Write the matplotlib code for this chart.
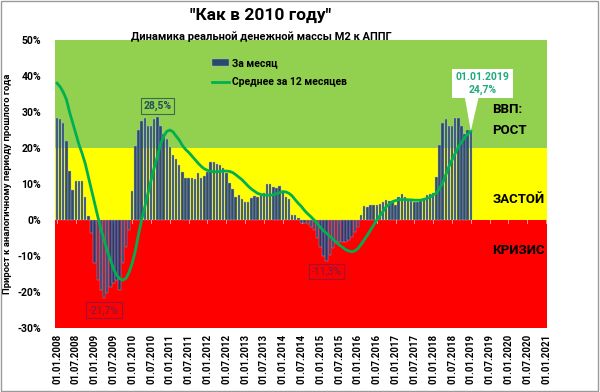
import matplotlib
matplotlib.use("Agg")
import matplotlib.pyplot as plt
import numpy as np
import pandas as pd
from matplotlib.patches import Rectangle, Polygon

plt.rcParams['font.family'] = ['Roboto', 'DejaVu Sans']

# monthly categories 01.2008 .. 01.2021
dates = pd.date_range('2008-01-01', '2021-01-01', freq='MS')
tick_labels = [d.strftime('%d.%m.%Y') for d in dates[::6]]

# monthly growth, % (01.2008 .. 01.2019)
monthly = [28.3, 28.0, 27.0, 22.0, 13.6, 8.3, 10.9, 10.9, 10.8, 6.3, 1.1,
           -3.7, -12.0, -16.7, -19.4, -21.7, -20.4, -18.5, -17.6, -16.7, -19.4, -12.0, -7.4, -2.8,
           8.0, 20.5, 25.0, 27.5, 28.2, 26.1, 26.2, 28.0, 28.5, 26.2, 23.9, 22.4,
           20.2, 18.0, 16.9, 15.3, 13.2, 11.6, 11.8, 11.8, 11.3, 13.0, 11.6, 12.2,
           13.4, 16.0, 16.1, 15.5, 15.2, 14.4, 13.0, 10.2, 8.5, 6.5, 7.0, 5.7,
           5.1, 5.1, 6.0, 6.8, 6.5, 7.0, 7.6, 9.9, 10.0, 9.3, 8.8, 9.4,
           7.9, 6.5, 5.9, 1.4, 1.4, 0.5, -0.7, -0.8, -1.0, -1.9, -2.8, -5.0,
           -7.4, -10.0, -11.3, -9.7, -7.9, -6.5, -6.0, -6.0, -6.0, -5.6, -4.6, -3.2,
           -1.9, 1.5, 4.0, 3.5, 4.2, 4.2, 4.3, 4.5, 5.0, 5.6, 5.4, 5.0,
           4.2, 6.5, 7.1, 6.3, 5.6, 5.4, 5.1, 5.1, 5.4, 6.0, 6.9, 7.2,
           7.6, 11.9, 20.8, 26.9, 28.0, 26.1, 26.2, 28.2, 28.2, 26.1, 24.0, 25.0,
           25.0]

# 12-month average, % (01.2008 .. 01.2019)
avg12 = [38.0, 37.0, 35.5, 33.5, 30.0, 27.0, 24.0, 21.0, 18.5, 15.7, 12.0, 8.3,
         4.5, 1.0, -2.5, -5.5, -8.5, -11.0, -13.5, -15.3, -16.3, -16.7, -16.2, -14.5,
         -12.0, -8.5, -4.0, 0.0, 3.7, 7.5, 11.0, 14.5, 17.6, 21.0, 23.2, 24.6,
         25.0, 24.5, 23.3, 22.2, 20.7, 19.6, 18.8, 17.8, 16.8, 15.8, 14.9, 14.2,
         13.8, 13.5, 13.4, 13.4, 13.5, 13.6, 13.6, 13.5, 13.2, 12.6, 11.9, 11.2,
         10.3, 9.4, 8.6, 8.0, 7.4, 7.1, 6.9, 6.9, 6.9, 7.0, 7.3, 7.6,
         7.9, 7.8, 7.4, 6.7, 5.6, 4.6, 3.7, 2.6, 1.7, 0.9, 0.0, -1.0,
         -2.0, -3.0, -3.7, -4.5, -5.3, -6.1, -6.9, -7.5, -8.2, -8.6, -8.8, -8.6,
         -7.9, -6.8, -5.5, -4.2, -2.8, -1.4, 0.0, 1.2, 2.4, 3.7, 4.4, 5.1,
         5.4, 5.6, 5.7, 5.7, 5.6, 5.6, 5.5, 5.5, 5.5, 5.7, 6.0, 6.3,
         7.0, 7.4, 8.8, 10.2, 12.5, 14.8, 16.7, 18.5, 20.2, 21.6, 22.9, 23.9,
         24.7]

zones = [(-30, 0, '#FF0000'), (0, 20, '#FFFF00'), (20, 50, '#92D050')]

fig = plt.figure(figsize=(6.0, 3.92), dpi=100)
ax = fig.add_axes([55/600, 1-328/392, 492/600, 288/392])

x_all = np.arange(len(dates))
xb = x_all[:len(monthly)]

for lo, hi, c in zones:
    ax.axhspan(lo, hi, color=c, zorder=0, lw=0)

bars = ax.bar(xb, monthly, width=0.78, color='#1F3A70', alpha=0.9,
              edgecolor='#A9BCDB', linewidth=0.3, zorder=2, label='За месяц')
line, = ax.plot(xb, avg12, color='#00B050', lw=2.0, zorder=3, label='Среднее за 12 месяцев')

# small tick marks on zero line
for t in x_all[::6]:
    ax.plot([t, t], [0, -0.9], color='#FFB0B0', lw=0.6, zorder=1)

ax.set_xlim(-0.64, 156.3)
ax.set_ylim(-30, 50)
ax.set_yticks(np.arange(-30, 51, 10))
ax.set_yticklabels([f'{v}%' for v in range(-30, 51, 10)], fontsize=7.5, fontweight='bold')
ax.set_xticks(x_all[::6])
ax.set_xticklabels(tick_labels, rotation=90, fontsize=7, fontweight='bold')
ax.tick_params(axis='both', length=0)
ax.tick_params(axis='y', pad=10)
ax.tick_params(axis='x', pad=4)
for s in ax.spines.values():
    s.set_visible(False)

ax.set_ylabel('Прирост к аналогичному периоду прошлого года', fontsize=6.8,
              fontweight='bold', labelpad=4)

leg = ax.legend(handles=[bars, line], loc='upper left', bbox_to_anchor=(0.30, 0.97),
                frameon=False, handlelength=1.6, handletextpad=0.3, labelspacing=0.9,
                prop={'weight': 'bold', 'size': 7.5})

# value labels
ax.text(32, 31.6, '28,5%', ha='center', va='center', fontsize=7.5, fontweight='bold',
        color='#1F4E5A', bbox=dict(boxstyle='square,pad=0.25', fc='none', ec='#3A6B4A', lw=0.8), zorder=5)
ax.text(15, -25.0, '-21,7%', ha='center', va='center', fontsize=7.5,
        color='#6E1F4A', bbox=dict(boxstyle='square,pad=0.25', fc='none', ec='#A0103A', lw=0.8), zorder=5)
ax.text(86, -14.3, '-11,3%', ha='center', va='center', fontsize=7.5,
        color='#6E1F4A', bbox=dict(boxstyle='square,pad=0.25', fc='none', ec='#A0103A', lw=0.8), zorder=5)

# callout for last value
ax.text(135.7, 38.0, '01.01.2019\n24,7%', ha='center', va='center', fontsize=7.5,
        fontweight='bold', color='#1FAA7A', linespacing=1.3,
        bbox=dict(boxstyle='square,pad=0.35', fc='white', ec='none'), zorder=6)
ax.add_patch(Polygon([(130.0, 34.5), (134.6, 34.5), (132, 24.7)], closed=True,
                     fc='white', ec='none', zorder=5))

ax.text(138.8, 30.8, 'ВВП:', ha='left', va='center', fontsize=9.5, fontweight='bold', color='black')
ax.text(138.8, 25.0, 'РОСТ', ha='left', va='center', fontsize=9.5, fontweight='bold', color='black')
ax.text(138.8, 5.6, 'ЗАСТОЙ', ha='left', va='center', fontsize=9.5, fontweight='bold', color='black')
ax.text(138.8, -8.6, 'КРИЗИС', ha='left', va='center', fontsize=9.5, fontweight='bold', color='black')

fig.text(261/600, 1-15/392, '"Как в 2010 году"', ha='center', va='center',
         fontsize=12.5, fontweight='bold')
fig.text(261/600, 1-37/392, 'Динамика реальной денежной массы М2 к АППГ', ha='center',
         va='center', fontsize=8, fontweight='bold')

fig.patches.append(Rectangle((0.002, 0.003), 0.995, 0.994, transform=fig.transFigure,
                             fill=False, ec='#9A9A9A', lw=1.0))

fig.savefig('out.png', dpi=100)
